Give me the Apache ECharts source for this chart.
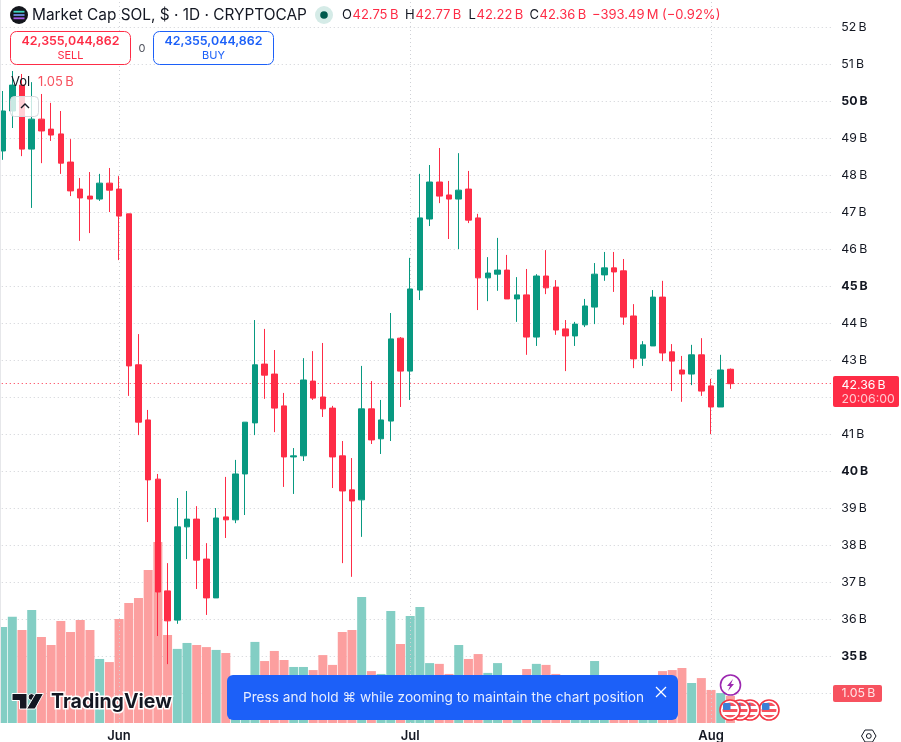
<!DOCTYPE html>
<html>
<head>
<meta charset="utf-8">
<title>Market Cap SOL</title>
<script src="https://cdn.jsdelivr.net/npm/echarts@6/dist/echarts.min.js"></script>
<style>html,body{margin:0;padding:0;background:#fff}#chart{width:901px;height:742px}</style>
</head>
<body>
<div id="chart"></div>
<script>
const categories = [
'May 20','May 21','May 22','May 23','May 24','May 25','May 26','May 27','May 28','May 29','May 30','May 31',
'Jun 1','Jun 2','Jun 3','Jun 4','Jun 5','Jun 6','Jun 7','Jun 8','Jun 9','Jun 10','Jun 11','Jun 12','Jun 13','Jun 14','Jun 15','Jun 16','Jun 17','Jun 18','Jun 19','Jun 20','Jun 21','Jun 22','Jun 23','Jun 24','Jun 25','Jun 26','Jun 27','Jun 28','Jun 29','Jun 30',
'Jul 1','Jul 2','Jul 3','Jul 4','Jul 5','Jul 6','Jul 7','Jul 8','Jul 9','Jul 10','Jul 11','Jul 12','Jul 13','Jul 14','Jul 15','Jul 16','Jul 17','Jul 18','Jul 19','Jul 20','Jul 21','Jul 22','Jul 23','Jul 24','Jul 25','Jul 26','Jul 27','Jul 28','Jul 29','Jul 30','Jul 31',
'Aug 1','Aug 2','Aug 3','Aug 4','Aug 5','Aug 6','Aug 7','Aug 8','Aug 9','Aug 10','Aug 11','Aug 12','Aug 13'];
const monthTicks = {'Jun 1':'Jun','Jul 1':'Jul','Aug 1':'Aug'};
// [open, close, low, high] in billions of dollars
const candles = [
[48.65,49.73,48.41,50.27],[49.73,50.43,49.27,50.81],[50.43,48.70,48.51,50.73],[48.70,49.51,47.11,50.51],
[49.51,49.19,48.32,50.19],[49.24,49.08,48.92,49.95],[49.11,48.32,48.03,49.73],[48.35,47.57,47.43,48.97],
[47.62,47.38,46.22,47.92],[47.43,47.35,46.43,48.08],[47.35,47.78,47.30,48.03],[47.78,47.59,47.00,48.19],
[47.62,46.89,45.70,47.97],[46.95,42.84,42.03,46.95],[42.87,41.32,40.97,43.70],[41.38,39.76,38.62,41.65],
[39.78,36.73,35.54,39.92],[36.76,35.95,34.78,37.51],[35.97,38.49,35.87,39.27],[38.49,38.70,37.62,39.46],
[38.70,37.59,36.81,39.05],[37.62,36.57,36.11,38.05],[36.57,38.73,36.57,39.00],[38.76,38.68,38.19,39.84],
[38.68,39.92,38.59,40.30],[39.92,41.32,38.81,41.32],[41.30,42.87,40.97,44.08],[42.89,42.59,41.95,43.84],
[42.62,41.70,41.05,43.27],[41.76,40.38,39.57,42.11],[40.38,40.41,39.38,40.62],[40.41,42.46,40.27,43.05],
[42.43,41.97,41.92,43.24],[42.00,41.68,41.46,43.46],[41.70,40.38,39.54,41.76],[40.41,39.46,37.51,40.81],
[39.49,39.19,37.14,40.35],[39.22,41.68,38.22,42.84],[41.68,40.84,40.73,42.43],[40.87,41.38,40.46,41.92],
[41.35,43.57,40.81,44.27],[43.59,42.70,41.73,43.62],[42.70,44.92,41.92,45.76],[44.89,46.84,44.62,48.03],
[46.81,47.81,46.62,48.27],[47.81,47.43,47.24,48.73],[47.46,47.35,46.27,47.84],[47.35,47.59,46.00,48.59],
[47.62,46.78,46.70,48.11],[46.84,45.22,44.35,46.95],[45.22,45.35,44.59,45.78],[45.32,45.43,44.87,46.30],
[45.43,44.65,44.65,45.84],[44.65,44.76,44.03,45.24],[44.76,43.62,43.14,45.46],[43.62,45.27,43.38,45.32],
[45.27,44.95,44.78,45.97],[44.97,43.81,43.68,45.16],[43.84,43.65,42.70,44.08],[43.65,43.97,43.38,44.03],
[43.95,44.46,43.89,44.65],[44.43,45.32,43.97,45.62],[45.30,45.49,45.14,45.92],[45.49,45.38,44.84,45.92],
[45.41,44.16,43.95,45.73],[44.19,43.03,42.78,44.51],[43.05,43.41,42.84,43.51],[43.38,44.70,43.38,44.89],
[44.70,43.19,42.97,45.14],[43.22,42.97,42.16,43.43],[42.73,42.62,41.87,43.11],[42.62,43.14,42.32,43.41],
[43.14,42.16,42.03,43.59],[42.30,41.73,41.00,42.49],[41.73,42.73,41.73,43.14],[42.75,42.36,42.22,42.77]];
// volume, billions
const volumes = [
3.72,4.11,3.60,4.38,3.33,3.02,3.95,3.52,3.99,3.60,2.48,2.36,4.03,4.65,4.84,5.93,7.01,3.41,2.87,3.10,3.02,2.94,2.83,2.71,
1.67,1.59,3.14,2.40,2.79,2.44,2.17,2.17,2.05,2.63,2.25,3.52,3.60,4.88,2.01,1.90,4.34,3.06,4.14,4.49,2.32,2.29,1.90,3.02,
2.48,2.67,1.94,2.32,1.59,1.51,2.09,2.29,2.25,1.90,1.59,1.51,1.67,2.40,1.60,1.55,1.60,1.65,1.50,1.55,2.01,2.05,2.13,1.55,
1.74,1.28,1.16,1.05];
const boldPriceTicks = [50,45,40,35];
const hiddenPriceTicks = [34];
const lastPrice = 42.36;

const UP='#089981', DOWN='#fe2c46', VUP='#83cec4', VDOWN='#fc9f9f', TXT='#131722', GRID='#cfd1d6', BLUE='#1c60f8';
const FONT='Inter, "Noto Sans", sans-serif';
const chartLeft=-2.25, chartWidth=834.6;

function txt(x,y,text,fill,size,weight,align){
  return {type:'text',x:x,y:y,z:100,silent:true,style:{text:text,fill:fill,font:(weight||400)+' '+size+'px '+FONT,
    textAlign:align||'left',textVerticalAlign:'middle'}};
}
function rect(x,y,w,h,fill,stroke,r,z){
  return {type:'rect',z:z||90,silent:true,shape:{x:x,y:y,width:w,height:h,r:r||0},style:{fill:fill,stroke:stroke||null,lineWidth:stroke?1:0}};
}
function usFlag(cx,cy,z){
  const stripes={type:'linear',x:0,y:0,x2:0,y2:1,colorStops:[
    {offset:0,color:'#f7525f'},{offset:.2,color:'#f7525f'},{offset:.2,color:'#fff'},{offset:.4,color:'#fff'},
    {offset:.4,color:'#f7525f'},{offset:.6,color:'#f7525f'},{offset:.6,color:'#fff'},{offset:.8,color:'#fff'},
    {offset:.8,color:'#f7525f'},{offset:1,color:'#f7525f'}]};
  return [
    {type:'circle',z:z,silent:true,shape:{cx:cx,cy:cy,r:10},style:{fill:'#fff',stroke:'#f23645',lineWidth:1.6}},
    {type:'circle',z:z,silent:true,shape:{cx:cx,cy:cy,r:7.5},style:{fill:stripes}},
    {type:'rect',z:z,silent:true,shape:{x:cx-7,y:cy-7,width:7.5,height:7,r:1.5},style:{fill:'#3b7fd6'}}
  ];
}

const graphics = [
  // left pane edge
  rect(0,0,1,723,'#e6e7ea',null,0,60),
  // symbol icon
  {type:'circle',z:100,silent:true,shape:{cx:19,cy:15,r:9},style:{fill:'#14161c'}},
  {type:'rect',z:101,silent:true,shape:{x:13.5,y:10.8,width:11,height:1.8},style:{fill:'#3fd6c2'}},
  {type:'rect',z:101,silent:true,shape:{x:13.5,y:14.1,width:11,height:1.8},style:{fill:'#6f8fe6'}},
  {type:'rect',z:101,silent:true,shape:{x:13.5,y:17.4,width:11,height:1.8},style:{fill:'#a75be8'}},
  txt(32,15.5,'Market Cap SOL, $ · 1D · CRYPTOCAP',TXT,15.4,400),
  // status dot
  {type:'circle',z:100,silent:true,shape:{cx:324,cy:15,r:9},style:{fill:'#d5ebe7'}},
  {type:'circle',z:101,silent:true,shape:{cx:324,cy:15,r:3.8},style:{fill:'#00594d'}},
  // OHLC row
  txt(342,15.5,'O',TXT,13), txt(352.5,15.5,'42.75\u2009B',DOWN,13),
  txt(405,15.5,'H',TXT,13), txt(415.5,15.5,'42.77\u2009B',DOWN,13),
  txt(468.5,15.5,'L',TXT,13), txt(476.5,15.5,'42.22\u2009B',DOWN,13),
  txt(529.5,15.5,'C',TXT,13), txt(539.5,15.5,'42.36\u2009B',DOWN,13),
  txt(592,15.5,'\u2212393.49\u2009M',DOWN,13), txt(662,15.5,'(\u22120.92%)',DOWN,13),
  // sell / buy boxes
  rect(10.5,31.5,120,33,'#fff','#fe2c46',6),
  txt(70.5,41,'42,355,044,862',DOWN,12.4,600,'center'),
  txt(70.5,55.5,'SELL',DOWN,11,400,'center'),
  txt(142,48.5,'0','#50535e',11,400,'center'),
  rect(153.5,31.5,120,33,'#fff',BLUE,6),
  txt(213.5,41,'42,355,044,862',BLUE,12.4,600,'center'),
  txt(213.5,55.5,'BUY',BLUE,11,400,'center'),
  // volume legend
  txt(11,82,'Vol',TXT,13),
  txt(38,82,'1.05\u2009B','#f7525f',13),
  rect(10.5,96.5,28,20,'rgba(255,255,255,0.78)','#d6d8dd',4,95),
  {type:'polyline',z:100,silent:true,shape:{points:[[21,108],[25,104],[29,108]]},style:{fill:null,stroke:TXT,lineWidth:1.4}},
  // TradingView logo
  {type:'polygon',z:98,silent:true,shape:{points:[[12,693.5],[27,693.5],[27,709],[19.5,709],[19.5,700.5],[12,700.5]]},
    style:{fill:'#131722',stroke:'#fff',lineWidth:1}},
  {type:'circle',z:98,silent:true,shape:{cx:31.5,cy:697,r:3.4},style:{fill:'#131722',stroke:'#fff',lineWidth:1}},
  {type:'polygon',z:98,silent:true,shape:{points:[[35.5,693.5],[43.5,693.5],[35,709],[26.5,709]]},style:{fill:'#131722',stroke:'#fff',lineWidth:1}},
  {type:'text',x:51,y:702,z:98,silent:true,style:{text:'TradingView',fill:'#131722',stroke:'#fff',lineWidth:3,
    font:'700 19.5px '+FONT,textAlign:'left',textVerticalAlign:'middle'}},
  // hint banner
  rect(227,675,451,45,BLUE,null,6,97),
  txt(243,698,'Press and hold \u2318 while zooming to maintain the chart position','#e6edff',13.65),
  {type:'polyline',z:100,silent:true,shape:{points:[[656,687],[666,697]]},style:{fill:null,stroke:'#fff',lineWidth:1.2}},
  {type:'polyline',z:100,silent:true,shape:{points:[[666,687],[656,697]]},style:{fill:null,stroke:'#fff',lineWidth:1.2}},
  // event markers
  {type:'circle',z:99,silent:true,shape:{cx:730.5,cy:685,r:10},style:{fill:'#fff',stroke:'#9c27b0',lineWidth:1.6}},
  {type:'polygon',z:99,silent:true,shape:{points:[[733,679],[727,686],[730,686],[728,691],[734,684],[731,684]]},style:{fill:'#9c27b0'}},
  ...usFlag(769,710,96),...usFlag(750,710,96),...usFlag(740,710,96),...usFlag(730,710,96),
  // right scale labels
  rect(833,376,66,31,DOWN,null,2,95),
  txt(841.5,385,'42.36\u2009B','#fff',12.3),
  txt(841.5,399,'20:06:00','#ffc9d0',12.3),
  rect(833,685,49,17,'#f7525f',null,2,95),
  txt(841.5,693.5,'1.05\u2009B','#ffe3e5',12.3),
  // settings
  {type:'polygon',z:100,silent:true,shape:{points:[[861.5,736],[865,730],[872.5,730],[876,736],[872.5,742],[865,742]]},style:{fill:null,stroke:TXT,lineWidth:1}},
  {type:'circle',z:100,silent:true,shape:{cx:868.8,cy:736,r:2.4},style:{fill:null,stroke:TXT,lineWidth:1}}
];

const option = {
  animation:false,
  backgroundColor:'#fff',
  textStyle:{fontFamily:FONT},
  grid:[
    {left:chartLeft,width:chartWidth,top:27,height:666,show:false,outerBoundsMode:'none'},
    {left:chartLeft,width:chartWidth,top:0,height:723,show:false,outerBoundsMode:'none'}
  ],
  xAxis:[
    {type:'category',gridIndex:0,data:categories,boundaryGap:true,
      axisLine:{show:false},axisTick:{show:false},axisLabel:{show:false},splitLine:{show:false}},
    {type:'category',gridIndex:1,data:categories,boundaryGap:true,
      axisLine:{show:false},axisTick:{show:false},splitLine:{show:false},
      axisLabel:{show:true,interval:(i,v)=>!!monthTicks[v],formatter:v=>monthTicks[v]||'',margin:7,
        color:TXT,fontSize:13,fontWeight:600,fontFamily:FONT}}
  ],
  yAxis:[
    {type:'value',gridIndex:0,position:'right',min:34,max:52,interval:1,
      axisLine:{show:false},axisTick:{show:false},
      splitLine:{show:true,lineStyle:{color:GRID,type:[1,3],width:1}},
      axisLabel:{margin:9,align:'left',fontFamily:FONT,
        formatter:v=>{
          if(hiddenPriceTicks.includes(v)) return '';
          return boldPriceTicks.includes(v)?'{b|'+v+'\u2009B}':'{n|'+v+'\u2009B}';
        },
        rich:{n:{color:TXT,fontSize:12.3,fontFamily:FONT,fontWeight:400,padding:[1,0,0,0]},
              b:{color:TXT,fontSize:12.3,fontFamily:FONT,fontWeight:700,padding:[1,0,0,0]}}}},
    {type:'value',gridIndex:1,position:'left',min:0,max:28,show:false,splitLine:{show:false}}
  ],
  series:[
    {name:'Vol',type:'bar',xAxisIndex:1,yAxisIndex:1,barWidth:9,z:1,silent:true,
      data:volumes.map((v,i)=>({value:v,itemStyle:{color:candles[i][1]>=candles[i][0]?VUP:VDOWN}})),
      markLine:{silent:true,symbol:'none',label:{show:false},animation:false,
        lineStyle:{color:GRID,type:[1,3],width:1},
        data:Object.keys(monthTicks).map(k=>({xAxis:k}))}},
    {name:'Market Cap SOL',type:'candlestick',xAxisIndex:0,yAxisIndex:0,barWidth:6,z:5,silent:true,clip:false,
      data:candles,
      itemStyle:{color:UP,color0:DOWN,borderColor:UP,borderColor0:DOWN,borderWidth:1},
      markLine:{silent:true,symbol:'none',label:{show:false},animation:false,
        lineStyle:{color:DOWN,type:[1,3],width:1},data:[{yAxis:lastPrice}]}}
  ],
  graphic:graphics
};
const chart = echarts.init(document.getElementById('chart'),null,{renderer:'canvas'});
chart.setOption(option);
</script>
</body>
</html>
